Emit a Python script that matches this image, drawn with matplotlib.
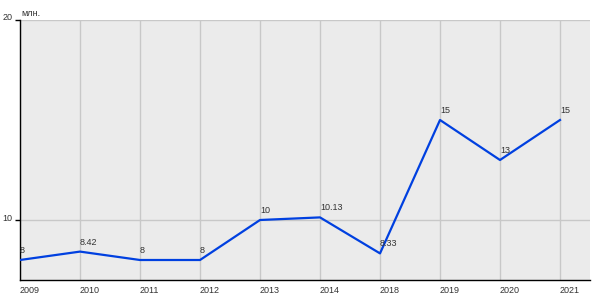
import matplotlib
matplotlib.use("Agg")
import matplotlib.pyplot as plt
import matplotlib.transforms as mtransforms

plt.rcParams["font.family"] = ["Liberation Sans", "DejaVu Sans"]

years = ["2009", "2010", "2011", "2012", "2013", "2014", "2018", "2019", "2020", "2021"]
values = [8, 8.42, 8, 8, 10, 10.13, 8.33, 15, 13, 15]
labels = ["8", "8.42", "8", "8", "10", "10.13", "8.33", "15", "13", "15"]
y_ticks = [10, 20]

fig = plt.figure(figsize=(6, 3), dpi=100, facecolor="white")
ax = fig.add_axes([20 / 600, 20 / 300, 570 / 600, 260 / 300])
ax.set_facecolor("#ebebeb")

x = list(range(len(years)))
ax.plot(x, values, color="#0040e0", linewidth=1.6, zorder=3)
for xi, v, lab in zip(x, values, labels):
    ax.annotate(lab, (xi, v), xytext=(0, 5), textcoords="offset points",
                ha="left", va="baseline", fontsize=6.5, color="#333333", zorder=4)

ax.set_xlim(0, 9.5)
ax.set_ylim(7, 20)
ax.set_xticks(x)
ax.set_xticklabels(years, fontsize=6.5, color="#333333", ha="left")
ax.set_yticks(y_ticks)
ax.set_yticklabels([str(t) for t in y_ticks], fontsize=6.5, color="#333333")
ax.tick_params(axis="x", length=0, pad=4)
ax.tick_params(axis="y", length=3.6, width=1, pad=2)
ax.grid(True, color="#c8c8c8", linewidth=1)
ax.set_axisbelow(True)

shift = mtransforms.ScaledTranslation(0, 3 / 100, fig.dpi_scale_trans)
for lbl in ax.get_yticklabels():
    lbl.set_transform(lbl.get_transform() + shift)

for side in ["top", "right"]:
    ax.spines[side].set_visible(False)
ax.spines["left"].set_color("black")
ax.spines["bottom"].set_color("black")
ax.spines["left"].set_linewidth(1)
ax.spines["bottom"].set_linewidth(1)

fig.text(21 / 600, 1 - 13 / 300, "млн.", fontsize=6.5, color="#333333", ha="left", va="center")

fig.savefig("out.png", dpi=100)
